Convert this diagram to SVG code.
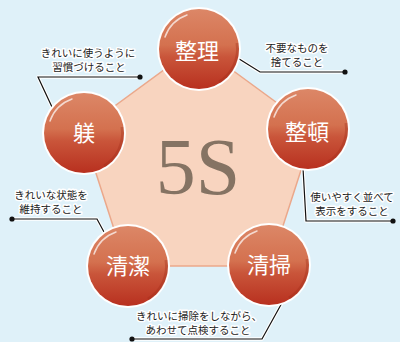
<svg xmlns="http://www.w3.org/2000/svg" width="400" height="342" viewBox="0 0 400 342">
<style>
.note{font-family:"Noto Sans CJK JP","Noto Sans",sans-serif;font-size:10.5px;fill:#222;stroke:#fff;stroke-width:3px;stroke-linejoin:round;paint-order:stroke;text-anchor:middle}
.lbl{font-family:"Liberation Serif","Noto Sans CJK JP",serif;font-size:22px;fill:#fff;text-anchor:middle;dominant-baseline:central}
.conn{fill:none;stroke:#111;stroke-width:1.2}
.halo{fill:none;stroke:#fff;stroke-width:3.4;stroke-linejoin:round}
</style>
<defs>
<linearGradient id="ball" x1="0" y1="0" x2="0" y2="1">
<stop offset="0" stop-color="#dc8767"/>
<stop offset="0.45" stop-color="#d4714f"/>
<stop offset="0.6" stop-color="#c9553a"/>
<stop offset="1" stop-color="#b8301f"/>
</linearGradient>
<g id="ballShape">
<circle r="42" fill="#fff"/>
<circle r="40" fill="url(#ball)"/>
<path d="M-34,-12 A36,36 0 0 1 -12,-34" fill="none" stroke="#fff" stroke-opacity="0.7" stroke-width="1.5" stroke-linecap="round"/>
<path d="M38,-6 A38,38 0 0 1 20,33" fill="none" stroke="#a12a18" stroke-opacity="0.35" stroke-width="3"/>
</g>
</defs>
<rect width="400" height="342" fill="#dff1f9"/>
<polygon points="198,45 314,130 270,266 126,266 82,130" fill="#f8d4bf" stroke="#eba88b" stroke-width="1.5"/>
<text x="198" y="194" font-family="Liberation Serif,serif" font-size="80" fill="#857363" text-anchor="middle">5S</text>
<g id="connectors">
<polyline class="halo" points="236,57 260,72 345,72"/>
<polyline class="conn" points="236,57 260,72 345,72"/>
<circle cx="345" cy="72" r="2.6" fill="#111"/>
<polyline class="halo" points="140,77 38,77 52,107"/>
<polyline class="conn" points="140,77 38,77 52,107"/>
<circle cx="140" cy="77" r="2.6" fill="#111"/>
<polyline class="halo" points="303,168 306,221 393,221"/>
<polyline class="conn" points="303,168 306,221 393,221"/>
<circle cx="393" cy="221" r="2.6" fill="#111"/>
<polyline class="halo" points="12,219 97,219 104,232"/>
<polyline class="conn" points="12,219 97,219 104,232"/>
<circle cx="12" cy="219" r="2.6" fill="#111"/>
<polyline class="halo" points="132,339 262,339 283,301"/>
<polyline class="conn" points="132,339 262,339 283,301"/>
<circle cx="132" cy="339" r="2.6" fill="#111"/>
</g>
<g id="seiri">
<use href="#ballShape" x="199" y="49"/>
<text class="lbl" x="197" y="51">整理</text>
<text class="note" x="297" y="52">不要なものを</text>
<text class="note" x="297" y="66">捨てること</text>
</g>
<g id="seiton">
<use href="#ballShape" x="308" y="129"/>
<text class="lbl" x="307" y="132">整頓</text>
<text class="note" x="352" y="201">使いやすく並べて</text>
<text class="note" x="352" y="215">表示をすること</text>
</g>
<g id="seiso">
<use href="#ballShape" x="269" y="265"/>
<text class="lbl" x="269" y="265">清掃</text>
<text class="note" x="199" y="320">きれいに掃除をしながら、</text>
<text class="note" x="198" y="334">あわせて点検すること</text>
</g>
<g id="seiketsu">
<use href="#ballShape" x="128" y="266"/>
<text class="lbl" x="128" y="266">清潔</text>
<text class="note" x="51" y="199">きれいな状態を</text>
<text class="note" x="51" y="213">維持すること</text>
</g>
<g id="shitsuke">
<use href="#ballShape" x="84" y="133"/>
<text class="lbl" x="84" y="133">躾</text>
<text class="note" x="88" y="57">きれいに使うように</text>
<text class="note" x="89" y="71">習慣づけること</text>
</g>
</svg>
